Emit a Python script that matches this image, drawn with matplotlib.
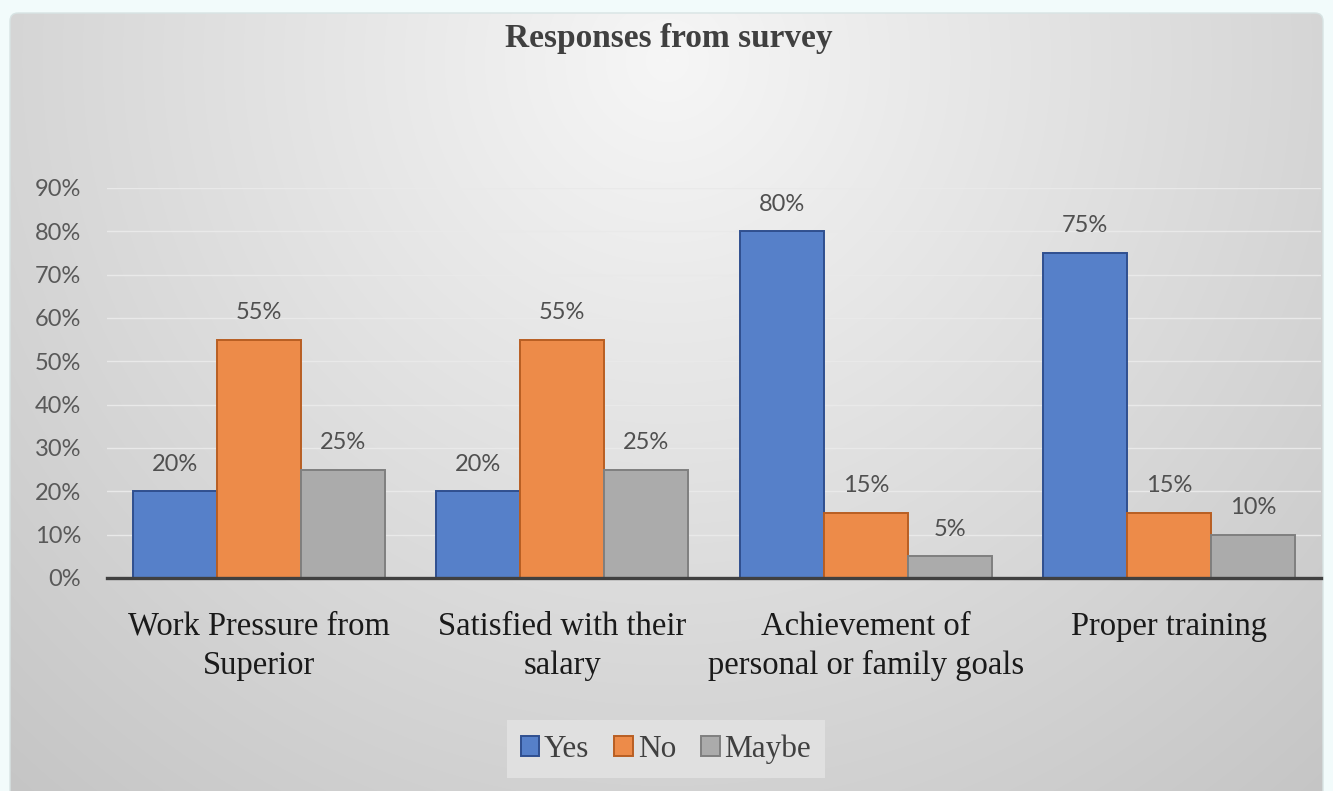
import numpy as np
import matplotlib.pyplot as plt
from matplotlib.patches import FancyBboxPatch, Patch

categories = ['Work Pressure from\nSuperior', 'Satisfied with their\nsalary',
              'Achievement of\npersonal or family goals', 'Proper training']
series = ['Yes', 'No', 'Maybe']
yes = [20, 20, 80, 75]
no = [55, 55, 15, 15]
maybe = [25, 25, 5, 10]
values = [yes, no, maybe]

fills = ['#5680c9', '#ed8b49', '#ababab']
edges = ['#2f4f8f', '#b85e22', '#7f7f7f']

W, H = 1333, 791
fig = plt.figure(figsize=(W / 100, H / 100), dpi=100)
fig.patch.set_facecolor('#f2fbfb')

# chart area background: soft radial gradient, light at the top centre
bg = fig.add_axes([0, 0, 1, 1], zorder=0)
bg.set_xlim(0, W)
bg.set_ylim(H, 0)
bg.axis('off')
yy, xx = np.mgrid[0:H, 0:W]
d = np.hypot(xx - 667, yy - 60)
shade = np.clip(0.965 - 0.000195 * d, 0, 1)
img = np.dstack([shade, shade, shade])
panel = FancyBboxPatch((10, 13), 1313, 790, boxstyle='round,pad=0,rounding_size=8',
                       facecolor='none', edgecolor='#d8e4e4', lw=1.0)
bg.add_patch(panel)
im = bg.imshow(img, extent=(0, W, H, 0), interpolation='bilinear')
im.set_clip_path(panel)

ax = fig.add_axes([107 / W, (H - 578) / H, 1214 / W, 390 / H], zorder=1)
ax.patch.set_alpha(0)

x = np.arange(len(categories))
bw = 0.277
for i, (name, vals) in enumerate(zip(series, values)):
    pos = x + (i - 1) * bw
    ax.bar(pos, vals, width=bw, color=fills[i], edgecolor=edges[i], linewidth=1.4,
           label=name, zorder=3)
    for px, v in zip(pos, vals):
        ax.text(px, v + 6.3, f'{v}%', ha='center', va='center', fontsize=17,
                family='Lato', color='#505050', zorder=4)

ax.set_xlim(-0.5, 3.5)
ax.set_ylim(0, 90)
ax.set_yticks(range(0, 91, 10))
ax.set_yticklabels([f'{t}%' for t in range(0, 91, 10)], family='Lato', fontsize=17,
                   color='#595959')
ax.yaxis.grid(True, color='#e9e9e9', lw=1.0, zorder=0)
ax.tick_params(axis='y', length=0, pad=18.5)
ax.tick_params(axis='x', length=0, pad=24)
ax.set_xticks(x)
ax.set_xticklabels(categories, family='Liberation Serif', fontsize=23.5, color='#1a1a1a',
                   linespacing=1.35, va='top')
for s in ['left', 'right', 'top']:
    ax.spines[s].set_visible(False)
ax.spines['bottom'].set_color('#404040')
ax.spines['bottom'].set_linewidth(2.4)
ax.spines['bottom'].set_zorder(5)

fig.text(669 / W, 1 - 39 / H, 'Responses from survey', ha='center', va='center',
         family='Liberation Serif', fontweight='bold', fontsize=24, color='#404040')

handles = [Patch(facecolor=fills[i], edgecolor=edges[i], linewidth=1.4, label=series[i])
           for i in range(3)]
leg = fig.legend(handles=handles, loc='center', bbox_to_anchor=(666 / W, 1 - 749 / H),
                 ncol=3, frameon=True, fancybox=False, prop={'family': 'Liberation Serif', 'size': 22.5},
                 handlelength=0.6, handleheight=0.6, handletextpad=0.15, columnspacing=0.8,
                 borderpad=0.45)
leg.get_frame().set_facecolor('#e4e4e4')
leg.get_frame().set_edgecolor('none')
for t in leg.get_texts():
    t.set_color('#404040')

fig.savefig('out.png', dpi=100)
